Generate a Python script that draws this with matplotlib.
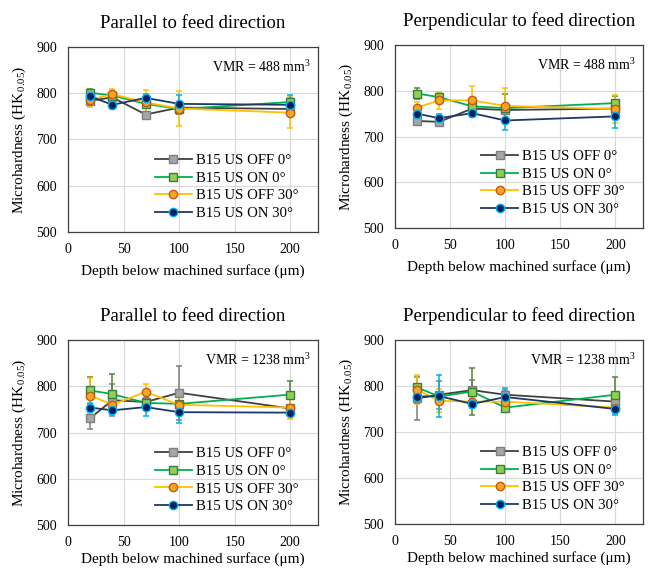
import numpy as np
import matplotlib
matplotlib.use("Agg")
import matplotlib.pyplot as plt

plt.rcParams["font.family"] = ["Liberation Serif", "DejaVu Serif"]
plt.rcParams["mathtext.fontset"] = "custom"
plt.rcParams["mathtext.rm"] = "Liberation Serif"
plt.rcParams["mathtext.it"] = "Liberation Serif:italic"

# -------- data --------
depth = [20, 40, 70, 100, 200]
series_names = ["B15 US OFF 0°", "B15 US ON 0°", "B15 US OFF 30°", "B15 US ON 30°"]

# panel 1: parallel, VMR 488
p1_off0 = [784, 791, 754, 769, 766]
p1_on0 = [801, 795, 777, 766, 781]
p1_off30 = [786, 798, 780, 767, 758]
p1_on30 = [793, 775, 790, 777, 775]
p1_off0_err = [6, 5, 6, 8, 6]
p1_on0_err = [8, 6, 6, 10, 8]
p1_off30_err = [16, 11, 28, 37, 34]
p1_on30_err = [8, 9, 8, 20, 22]

# panel 2: perpendicular, VMR 488
p2_off0 = [734, 732, 761, 758, 761]
p2_on0 = [794, 786, 766, 762, 773]
p2_off30 = [763, 779, 779, 767, 760]
p2_on30 = [750, 740, 751, 735, 744]
p2_off0_err = [5, 5, 6, 8, 6]
p2_on0_err = [12, 6, 8, 30, 16]
p2_off30_err = [12, 18, 31, 39, 30]
p2_on30_err = [6, 10, 8, 21, 25]

# panel 3: parallel, VMR 1238
p3_off0 = [731, 770, 766, 786, 752]
p3_on0 = [791, 783, 764, 762, 782]
p3_off30 = [780, 760, 788, 760, 754]
p3_on30 = [754, 748, 755, 744, 743]
p3_off0_err = [24, 35, 8, 58, 8]
p3_on0_err = [30, 43, 10, 20, 29]
p3_off30_err = [38, 14, 18, 16, 24]
p3_on30_err = [10, 8, 19, 24, 6]

# panel 4: perpendicular, VMR 1238
p4_off0 = [773, 781, 791, 781, 766]
p4_on0 = [797, 777, 788, 753, 781]
p4_off30 = [792, 768, 766, 766, 753]
p4_on30 = [777, 778, 761, 776, 750]
p4_off0_err = [47, 30, 22, 10, 8]
p4_on0_err = [8, 10, 52, 8, 39]
p4_off30_err = [31, 25, 8, 8, 6]
p4_on30_err = [14, 46, 8, 20, 14]

titles = ["Parallel to feed direction", "Perpendicular to feed direction",
          "Parallel to feed direction", "Perpendicular to feed direction"]
vmr_labels = ["VMR = 488 mm$^3$", "VMR = 488 mm$^3$",
              "VMR = 1238 mm$^3$", "VMR = 1238 mm$^3$"]

panels = [
    ([p1_off0, p1_on0, p1_off30, p1_on30], [p1_off0_err, p1_on0_err, p1_off30_err, p1_on30_err]),
    ([p2_off0, p2_on0, p2_off30, p2_on30], [p2_off0_err, p2_on0_err, p2_off30_err, p2_on30_err]),
    ([p3_off0, p3_on0, p3_off30, p3_on30], [p3_off0_err, p3_on0_err, p3_off30_err, p3_on30_err]),
    ([p4_off0, p4_on0, p4_off30, p4_on30], [p4_off0_err, p4_on0_err, p4_off30_err, p4_on30_err]),
]

# style per series: line colour, marker, face, edge, errorbar colour
styles = [
    dict(line="#404040", marker="s", face="#A6A6A6", edge="#7F7F7F", err="#7F7F7F"),
    dict(line="#00B050", marker="s", face="#92D050", edge="#3A7D44", err="#548235"),
    dict(line="#FFC000", marker="o", face="#F5A623", edge="#C55A11", err="#FFC000"),
    dict(line="#203864", marker="o", face="#002060", edge="#00B0F0", err="#00B0F0"),
]

fig = plt.figure(figsize=(6.5, 5.69), dpi=100)
rects = [
    [0.1046, 0.5923, 0.3846, 0.3251],
    [0.6077, 0.5993, 0.3815, 0.3216],
    [0.1046, 0.0773, 0.3846, 0.3251],
    [0.6077, 0.0791, 0.3815, 0.3234],
]

for i, (rect, (vals, errs)) in enumerate(zip(rects, panels)):
    ax = fig.add_axes(rect)
    for name, y, e, st in zip(series_names, vals, errs, styles):
        ax.errorbar(depth, y, yerr=e, fmt="none", ecolor=st["err"],
                    elinewidth=1.1, capsize=2.5, capthick=1.1, zorder=2)
        ax.plot(depth, y, color=st["line"], lw=1.3, marker=st["marker"],
                markersize=6, markerfacecolor=st["face"],
                markeredgecolor=st["edge"], markeredgewidth=1.0,
                label=name, zorder=3)
    ax.set_xlim(0, 225)
    ax.set_ylim(500, 900)
    ax.set_xticks([0, 50, 100, 150, 200])
    ax.set_yticks([500, 600, 700, 800, 900])
    ax.grid(True, color="#D9D9D9", lw=0.8)
    ax.set_axisbelow(True)
    ax.tick_params(length=0, labelsize=10, pad=8)
    for sp in ax.spines.values():
        sp.set_color("#404040")
        sp.set_linewidth(0.9)
    ax.set_title(titles[i], fontsize=13.5, pad=14)
    # bottom row label sits a little higher so it stays inside the image
    ax.set_xlabel("Depth below machined surface (μm)", fontsize=11,
                  labelpad=6 if i < 2 else 2)
    ax.set_ylabel("Microhardness (HK$_{\\,0.05}$)", fontsize=11, labelpad=6)
    ax.text(0.97, 0.89, vmr_labels[i], transform=ax.transAxes,
            ha="right", va="center", fontsize=10)
    ax.legend(loc="lower left", bbox_to_anchor=(0.3, 0.0), frameon=False,
              fontsize=10.6, handlelength=2.5, handletextpad=0.3,
              labelspacing=0.3, borderpad=0.3)

fig.savefig("out.png", dpi=100)
